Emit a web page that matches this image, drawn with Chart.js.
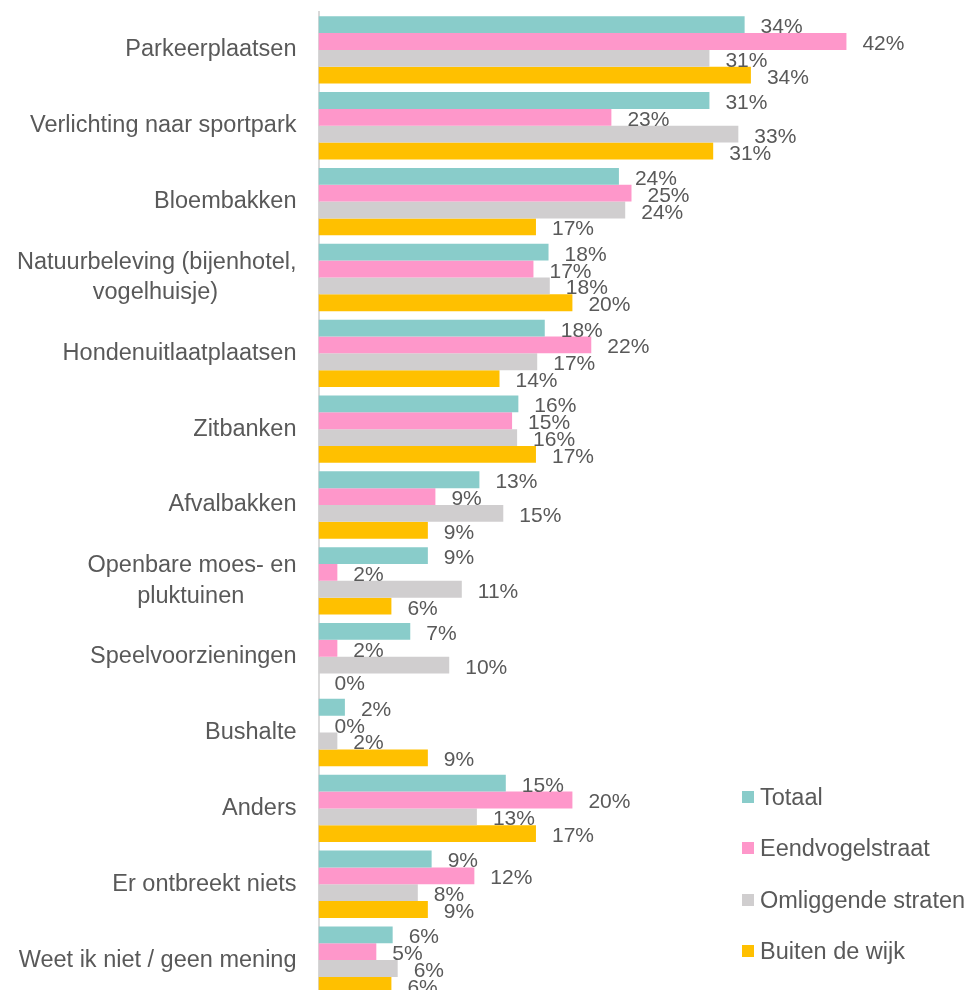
<!DOCTYPE html>
<html>
<head>
<meta charset="utf-8">
<script src="https://cdn.jsdelivr.net/npm/chart.js@4.4.1/dist/chart.umd.min.js"></script>
<style>
  html, body { margin: 0; padding: 0; background: #ffffff; overflow: hidden; }
  #wrap { position: relative; width: 971px; height: 998px; }
  #legend { position: absolute; left: 742px; top: 784px; font-family: "Liberation Sans", Arial, sans-serif; font-size: 23.5px; color: #595959; }
  .li { position: relative; height: 51.3px; line-height: 26px; white-space: nowrap; }
  .li span.box { position: absolute; left: 0; top: 7px; width: 12px; height: 12px; }
  .li span.txt { position: absolute; left: 18px; top: 0; }
</style>
</head>
<body>
<div id="wrap">
  <canvas id="c" width="971" height="998"></canvas>
  <div id="legend"></div>
</div>
<script>
const categories = [
  ['Parkeerplaatsen'],
  ['Verlichting naar sportpark'],
  ['Bloembakken'],
  ['Natuurbeleving (bijenhotel,', 'vogelhuisje)'],
  ['Hondenuitlaatplaatsen'],
  ['Zitbanken'],
  ['Afvalbakken'],
  ['Openbare moes- en', 'pluktuinen'],
  ['Speelvoorzieningen'],
  ['Bushalte'],
  ['Anders'],
  ['Er ontbreekt niets'],
  ['Weet ik niet / geen mening']
];
const seriesNames = ['Totaal', 'Eendvogelstraat', 'Omliggende straten', 'Buiten de wijk'];
const seriesColors = ['#89CCCA', '#FE97CA', '#D0CECF', '#FFC000'];

const totaal          = [33.9, 31.1, 23.9, 18.3, 18.0, 15.9, 12.8, 8.7, 7.3, 2.1, 14.9, 9.0, 5.9];
const eendvogelstraat = [42.0, 23.3, 24.9, 17.1, 21.7, 15.4, 9.3, 1.5, 1.5, 0.0, 20.2, 12.4, 4.6];
const omliggende      = [31.1, 33.4, 24.4, 18.4, 17.4, 15.8, 14.7, 11.4, 10.4, 1.5, 12.6, 7.9, 6.3];
const buiten          = [34.4, 31.4, 17.3, 20.2, 14.4, 17.3, 8.7, 5.8, 0.0, 8.7, 17.3, 8.7, 5.8];
const seriesValues = [totaal, eendvogelstraat, omliggende, buiten];

const TEXT = '#595959';
const FONT_FAMILY = '"Liberation Sans", Arial, sans-serif';
const CAT_SIZE = 23.5;
const LBL_SIZE = 21;

const mctx = document.createElement('canvas').getContext('2d');
mctx.font = CAT_SIZE + 'px ' + FONT_FAMILY;
function centerLines(lines) {
  if (!Array.isArray(lines) || lines.length < 2) return lines;
  const widths = lines.map(l => mctx.measureText(l).width);
  const maxW = Math.max(...widths);
  const sp = mctx.measureText(' ').width;
  return lines.map((l, i) => {
    const n = Math.round((maxW - widths[i]) / 2 / sp);
    return l + ' '.repeat(n);
  });
}

const dataLabelPlugin = {
  id: 'dataLabels',
  afterDatasetsDraw(chart) {
    const ctx = chart.ctx;
    ctx.save();
    ctx.font = LBL_SIZE + 'px ' + FONT_FAMILY;
    ctx.fillStyle = TEXT;
    ctx.textAlign = 'left';
    ctx.textBaseline = 'alphabetic';
    chart.data.datasets.forEach((ds, di) => {
      const meta = chart.getDatasetMeta(di);
      meta.data.forEach((bar, i) => {
        const v = ds.data[i];
        const txt = Math.round(v) + '%';
        ctx.fillText(txt, bar.x + 16, bar.y + LBL_SIZE * 0.716 / 2 + 1);
      });
    });
    ctx.restore();
  }
};

const chart = new Chart(document.getElementById('c'), {
  type: 'bar',
  data: {
    labels: categories,
    datasets: seriesNames.map((name, k) => ({
      label: name,
      data: seriesValues[k],
      backgroundColor: seriesColors[k],
      borderWidth: 0,
      categoryPercentage: 0.888,
      barPercentage: 1.0
    }))
  },
  options: {
    indexAxis: 'y',
    responsive: false,
    animation: false,
    layout: { padding: { top: 12, right: 24, bottom: 0, left: 0 } },
    plugins: {
      legend: { display: false },
      tooltip: { enabled: false }
    },
    scales: {
      x: {
        display: false,
        min: 0,
        max: 50
      },
      y: {
        grid: { display: false, drawTicks: false },
        border: { display: true, color: '#D9D9D9', width: 2 },
        ticks: {
          color: TEXT,
          padding: 22,
          font: { family: FONT_FAMILY, size: CAT_SIZE, lineHeight: 1.3 },
          callback: function(value) {
            return centerLines(categories[value]);
          }
        },
        afterFit(scale) {
          scale.width = 318.5;
          scale.paddingTop = 0;
          scale.paddingBottom = 0;
        }
      }
    }
  },
  plugins: [dataLabelPlugin]
});

const lg = document.getElementById('legend');
seriesNames.forEach((name, k) => {
  const d = document.createElement('div');
  d.className = 'li';
  d.innerHTML = '<span class="box" style="background:' + seriesColors[k] + '"></span><span class="txt"></span>';
  d.querySelector('.txt').textContent = name;
  lg.appendChild(d);
});
</script>
</body>
</html>
